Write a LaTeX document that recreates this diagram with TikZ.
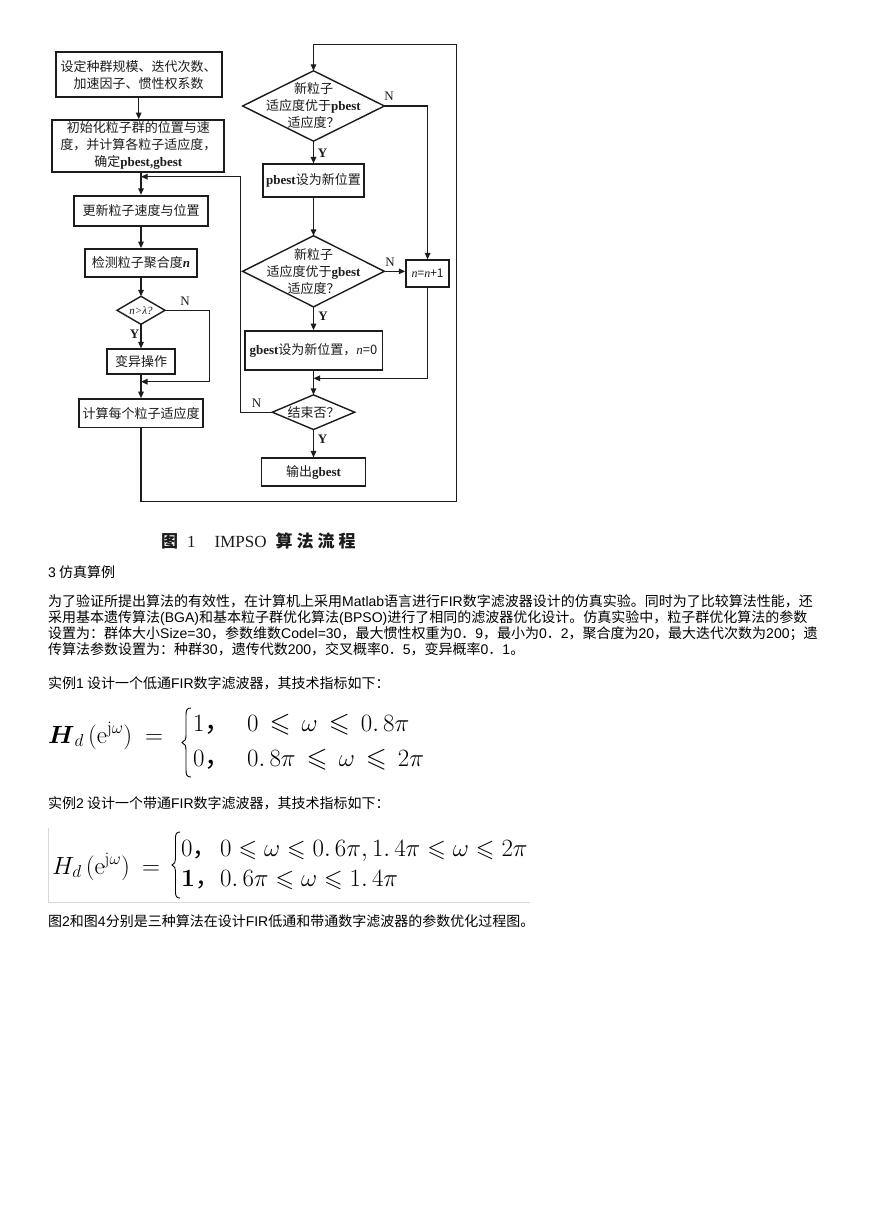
\documentclass[tikz,border=0pt]{standalone}
\usepackage{amsmath,amssymb}
\usepackage[no-math]{fontspec}
\setmainfont{Noto Sans CJK SC}
\newfontfamily\lat{Liberation Sans}
\newfontfamily\ser{Liberation Serif}
\usetikzlibrary{arrows.meta}
\definecolor{ink}{HTML}{1C1C1C}
\definecolor{framegray}{HTML}{D3DADA}
\newcommand\fsz{\fontsize{13}{17}\selectfont}
\newcommand\bsz{\fontsize{14}{16}\selectfont}
\newcommand\pb[1]{{\ser\bfseries #1}}
\newcommand\nit[1]{{\ser\itshape #1}}
\newcommand\La[1]{{\lat #1}}
\newcommand\myleq{\mathrel{\,\leqslant\,}}
\begin{document}
\begin{tikzpicture}[x=1pt,y=-1pt,
  fbox/.style={draw=ink,line width=1.7pt,fill=white,inner sep=0pt,align=center,font=\fsz,text=ink},
  dtext/.style={inner sep=0pt,align=center,font=\fsz,text=ink},
  dline/.style={draw=ink,line width=1.4pt,line join=miter},
  conn/.style={draw=ink,line width=1.35pt},
  arr/.style={conn,-{Triangle[length=6.5pt,width=5.5pt]}},
  yn/.style={inner sep=0pt,font=\fontsize{13}{13}\selectfont\ser,text=ink},
  ynb/.style={inner sep=0pt,font=\fontsize{13}{13}\selectfont\ser\bfseries,text=ink},
  body/.style={anchor=base west,inner sep=0pt,font=\bsz},
  fm/.style={anchor=base west,inner sep=0pt},
  bracepath/.style={draw=black,line width=0.9pt}
]
\fill[white] (0,0) rectangle (868,1228);
\useasboundingbox (0,0) rectangle (868,1228);

% ---------------- left column ----------------
\node[fbox,minimum width=166,minimum height=45] (b1) at (138.7,74.8) {设定种群规模、迭代次数、\\加速因子、惯性权系数};
\node[fbox,minimum width=172,minimum height=51.7] (b2) at (138.3,145.8) {初始化粒子群的位置与速\\度，并计算各粒子适应度，\\确定\pb{pbest,gbest}};
\node[fbox,minimum width=134.6,minimum height=30.3] (b3) at (141,210.8) {更新粒子速度与位置};
\node[fbox,minimum width=112,minimum height=28] (b4) at (141,263) {检测粒子聚合度{\ser\bfseries\itshape n}};
\node[dtext,minimum width=47.6,minimum height=27.6,font=\fontsize{11}{13}\selectfont] (d0) at (141,310.3) {\nit{n>λ?}};
\draw[dline] (d0.north) -- (d0.east) -- (d0.south) -- (d0.west) -- cycle;
\node[fbox,minimum width=68.6,minimum height=25] (b5) at (141,361.8) {变异操作};
\node[fbox,minimum width=123.7,minimum height=28.3] (b6) at (141,413.2) {计算每个粒子适应度};

% ---------------- right column ----------------
\node[dtext,minimum width=141.3,minimum height=70] (d1) at (313.5,106) {新粒子\\适应度优于\pb{pbest}\\适应度？};
\draw[dline] (d1.north) -- (d1.east) -- (d1.south) -- (d1.west) -- cycle;
\node[fbox,minimum width=101.4,minimum height=32.4] (b7) at (313.5,180.5) {\pb{pbest}设为新位置};
\node[dtext,minimum width=141.3,minimum height=70.7] (d2) at (313.5,271.3) {新粒子\\适应度优于\pb{gbest}\\适应度？};
\draw[dline] (d2.north) -- (d2.east) -- (d2.south) -- (d2.west) -- cycle;
\node[fbox,minimum width=43,minimum height=26.6,font=\fontsize{12}{14}\selectfont] (b8) at (427.6,273.5) {\nit{n}=\nit{n}+1};
\node[fbox,minimum width=137.7,minimum height=39] (b9) at (313.5,350.5) {\pb{gbest}设为新位置，\nit{n}=0};
\node[dtext,minimum width=82,minimum height=34.3] (d3) at (313.5,412.2) {结束否？};
\draw[dline] (d3.north) -- (d3.east) -- (d3.south) -- (d3.west) -- cycle;
\node[fbox,minimum width=104,minimum height=27.4] (b10) at (313.5,472) {输出\pb{gbest}};

% ---------------- helper coordinates ----------------
\coordinate (jl) at (141,176.7);
\coordinate (nl) at (240.7,176.7);
\coordinate (c0) at (209.3,381.7);
\coordinate (j0) at (141,381.7);
\coordinate (c1) at (456.7,501.7);
\coordinate (c2) at (456.7,44.7);
\coordinate (c3) at (313.5,378.3);

% ---------------- connectors ----------------
\draw[arr] (b1.south) -- (b1.south |- b2.north);
\draw[arr] (b2.south -| b3.north) -- (b3.north);
\draw[arr] (b3.south) -- (b4.north);
\draw[arr] (b4.south) -- (d0.north);
\draw[arr] (d0.south) -- (b5.north);
\draw[arr] (d0.east) -| (c0) -- (j0);
\draw[arr] (b5.south) -- (b6.north);
\draw[arr] (b6.south) |- (c1) -- (c2) -| (d1.north);
\draw[arr] (d1.south) -- (b7.north);
\draw[arr] (d1.east) -| (b8.north);
\draw[arr] (b7.south) -- (d2.north);
\draw[arr] (d2.east) -- (d2.east -| b8.west);
\draw[arr] (d2.south) -- (b9.north);
\draw[arr] (b8.south) |- (c3);
\draw[arr] (b9.south) -- (d3.north);
\draw[arr] (d3.west) -| (nl) -- (jl);
\draw[arr] (d3.south) -- (b10.north);

% ---------------- Y / N labels ----------------
\node[ynb] (y0) at (134.5,334.5) {Y};
\node[yn] (n0) at (185,301.5) {N};
\node[ynb] (y1) at (322.5,153) {Y};
\node[yn] (n1) at (389,96.5) {N};
\node[yn] (n2) at (390,262) {N};
\node[ynb] (y2) at (323,316.5) {Y};
\node[yn] (n3) at (256.5,403.5) {N};
\node[ynb] (y3) at (322.5,439.5) {Y};

% ---------------- caption ----------------
\node[anchor=base west,inner sep=0pt,text=ink] (cap) at (161,547) {{\fontsize{17}{17}\selectfont\bfseries 图}\hspace{9pt}{\ser\fontsize{17}{17}\selectfont 1}\hspace{19pt}{\ser\fontsize{17}{17}\selectfont IMPSO}\hspace{9pt}{\fontsize{17}{17}\selectfont\bfseries 算\hspace{4pt}法\hspace{4pt}流\hspace{4pt}程}};

% ---------------- body text ----------------
\node[body] (t0) at (48,577.5) {\La{3} 仿真算例};
\node[body] (t1) at (48,606.5) {为了验证所提出算法的有效性，在计算机上采用\La{Matlab}语言进行\La{FIR}数字滤波器设计的仿真实验。同时为了比较算法性能，还};
\node[body] (t2) at (48,622.5) {采用基本遗传算法\La{(BGA)}和基本粒子群优化算法\La{(BPSO)}进行了相同的滤波器优化设计。仿真实验中，粒子群优化算法的参数};
\node[body] (t3) at (48,638.5) {设置为：群体大小\La{Size=30}，参数维数\La{Codel=30}，最大惯性权重为\La{0}．\La{9}，最小为\La{0}．\La{2}，聚合度为\La{20}，最大迭代次数为\La{200}；遗};
\node[body] (t4) at (48,654.5) {传算法参数设置为：种群\La{30}，遗传代数\La{200}，交叉概率\La{0}．\La{5}，变异概率\La{0}．\La{1}。};
\node[body] (t5) at (48,688.5) {实例\La{1} 设计一个低通\La{FIR}数字滤波器，其技术指标如下：};
\node[body] (t6) at (48,808.5) {实例\La{2} 设计一个带通\La{FIR}数字滤波器，其技术指标如下：};
\node[body] (t7) at (48,926.5) {图\La{2}和图\La{4}分别是三种算法在设计\La{FIR}低通和带通数字滤波器的参数优化过程图。};

% ---------------- formula 1 ----------------
\begin{scope}[every node/.style={font=\fontsize{27}{30}\selectfont}]
\node[fm] (f1l) at (48,743) {$\boldsymbol{H}_{d}\,(\mathrm{e}^{\mathrm{j}\omega})\ =$};
\node[fm] (f1a) at (193,731) {$1$\text{，}};
\node[fm] (f1c) at (247,731) {$0\myleq\omega\myleq 0.\,8\pi$};
\node[fm] (f1d) at (193,766) {$0$\text{，}};
\node[fm] (f1e) at (247,766) {$0.\,8\pi\myleq\omega\myleq 2\pi$};
\end{scope}
\draw[bracepath] (191,708) .. controls (187,708) and (186,710) .. (186,715) -- (186,735)
  .. controls (186,739) and (185,741.5) .. (182,742.5)
  .. controls (185,743.5) and (186,746) .. (186,750) -- (186,770)
  .. controls (186,775) and (187,777) .. (191,777);

% ---------------- formula 2 ----------------
\draw[framegray,line width=1pt] (48,828) -- (48,902) -- (530,902);
\begin{scope}[every node/.style={font=\fontsize{24}{28}\selectfont}]
\node[fm] (f2l) at (52,874) {$H_{d}\,(\mathrm{e}^{\mathrm{j}\omega})\ =$};
\node[fm] (f2a) at (181,856) {$0$\text{，}};
\node[fm] (f2c) at (220,856) {$0\leqslant\omega\leqslant 0.\,6\pi,1.\,4\pi\leqslant\omega\leqslant 2\pi$};
\node[fm] (f2d) at (181,886) {$\mathbf{1}$\text{，}};
\node[fm] (f2e) at (220,886) {$0.\,6\pi\leqslant\omega\leqslant 1.\,4\pi$};
\end{scope}
\draw[bracepath] (180,832) .. controls (176.5,832) and (175.5,834) .. (175.5,838) -- (175.5,859)
  .. controls (175.5,862) and (174.5,864) .. (172,865)
  .. controls (174.5,866) and (175.5,868) .. (175.5,871) -- (175.5,892)
  .. controls (175.5,896) and (176.5,898) .. (180,898);
\end{tikzpicture}
\end{document}
